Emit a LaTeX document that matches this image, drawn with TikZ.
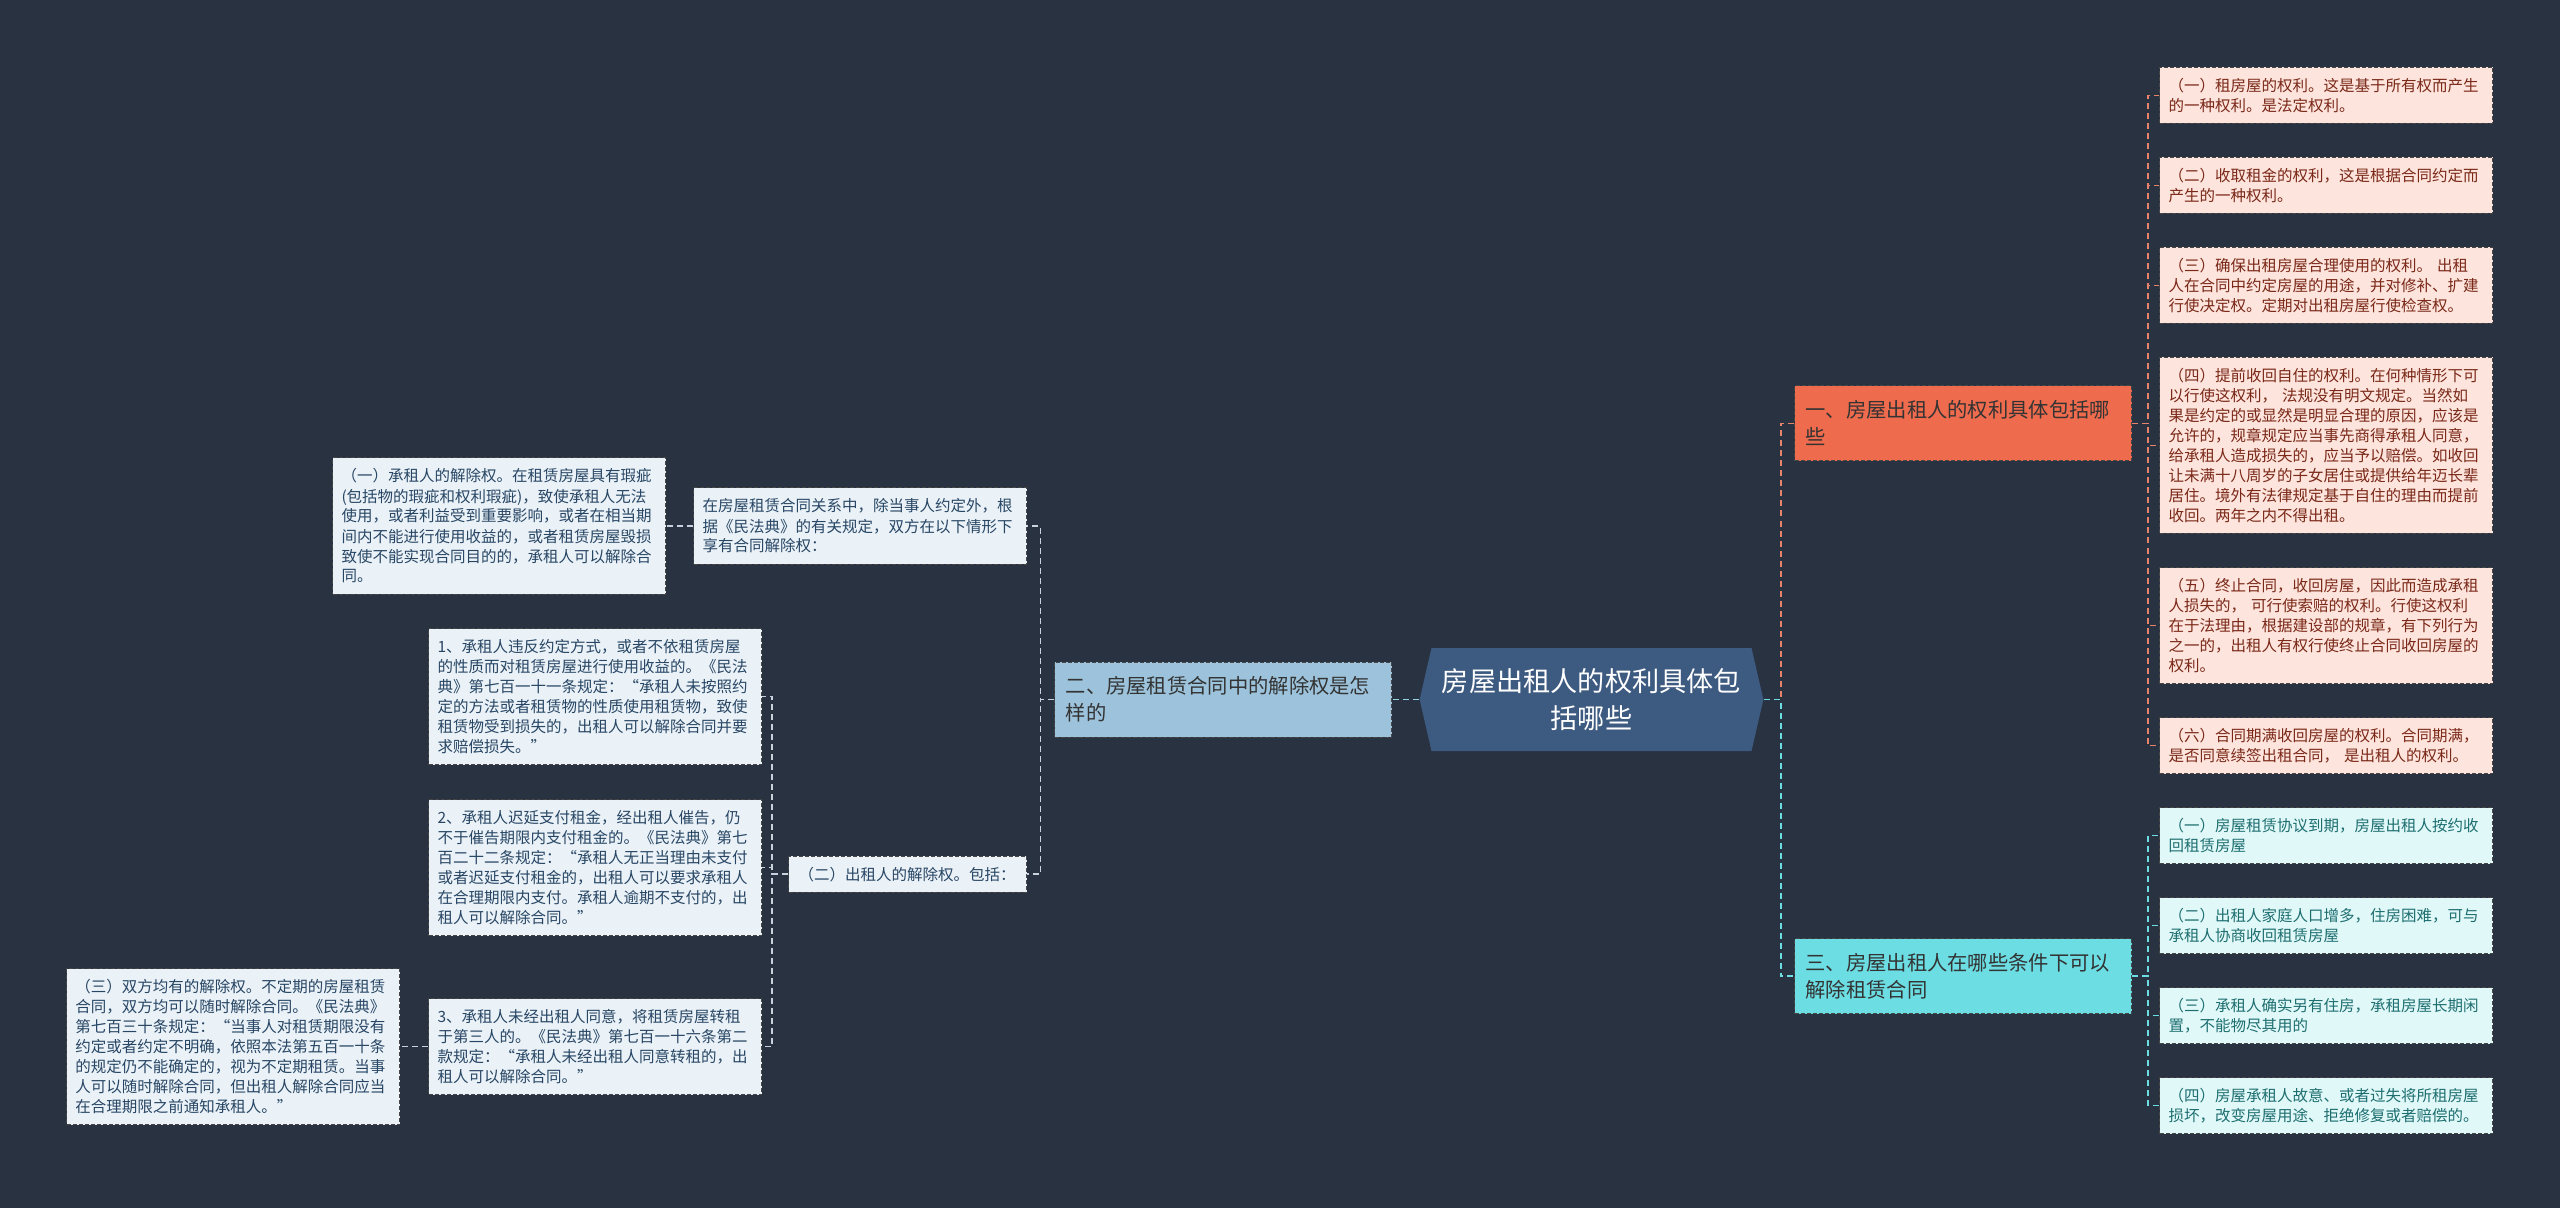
\documentclass[tikz,border=0pt]{standalone}
\usepackage{fontspec}
\setmainfont{Noto Sans CJK SC}
\usetikzlibrary{positioning,shapes.symbols}

\definecolor{nightbg}{RGB}{41,50,65}
\definecolor{hubblue}{RGB}{61,90,128}
\definecolor{skyfill}{RGB}{156,195,219}
\definecolor{coralfill}{RGB}{238,107,77}
\definecolor{aquafill}{RGB}{107,221,227}
\definecolor{pinkleaf}{RGB}{253,228,220}
\definecolor{pinktext}{RGB}{122,40,24}
\definecolor{aqualeaf}{RGB}{224,248,248}
\definecolor{aquatext}{RGB}{30,110,112}
\definecolor{frostleaf}{RGB}{234,242,248}
\definecolor{frosttext}{RGB}{40,70,100}
\definecolor{boxedge}{RGB}{70,70,70}
\definecolor{greylink}{RGB}{200,210,220}
\definecolor{skylink}{RGB}{150,210,230}
\definecolor{corallink}{RGB}{232,130,105}

\newcommand{\leafstrut}{\rule[-2pt]{0pt}{10pt}}
\newcommand{\branchstrut}{\rule[-2.85pt]{0pt}{13.5pt}}
\newcommand{\hubstrut}{\rule[-4.1pt]{0pt}{18.5pt}}

\begin{document}
\begin{tikzpicture}[x=0.5pt, y=-0.5pt,
    link/.style={line width=0.7pt, dash pattern=on 3pt off 2pt},
    leaf/.style={draw=boxedge, line width=0.5pt, dash pattern=on 2pt off 1pt,
                 align=left, inner xsep=4.5pt, inner ysep=4pt, text width=157.5pt,
                 font=\fontsize{7.75}{10}\selectfont,
                 execute at begin node=\leafstrut, execute at end node=\leafstrut},
    frost/.style={leaf, fill=frostleaf, text=frosttext},
    pinkbox/.style={leaf, fill=pinkleaf, text=pinktext},
    aquabox/.style={leaf, fill=aqualeaf, text=aquatext},
    branch/.style={draw=boxedge, line width=0.5pt, dash pattern=on 2pt off 1pt,
                   align=left, inner xsep=5.5pt, inner ysep=5.25pt, text width=157.5pt,
                   font=\fontsize{10.15}{13.5}\selectfont, text=black!80,
                   execute at begin node=\branchstrut, execute at end node=\branchstrut},
    hubbox/.style={signal, signal to=west and east, signal pointer angle=154,
                   fill=hubblue, text=white, align=center, text width=152pt,
                   inner xsep=4pt, inner ysep=7.25pt,
                   font=\fontsize{13.6}{18.5}\selectfont,
                   execute at begin node=\hubstrut, execute at end node=\hubstrut}
  ]
    \fill[nightbg] (0,0) rectangle (2560,1208);
    \useasboundingbox (0,0) rectangle (2560,1208);

    % centre and main branches
    \node[hubbox] (hub) at (1591.5,699.5) {房屋出租人的权利具体包\\括哪些};
    \node[branch, fill=skyfill, left=13.5pt of hub] (b2) {二、房屋租赁合同中的解除权是怎\\样的};
    \node[branch, fill=coralfill, anchor=west] (b1) at (1794,423.5) {一、房屋出租人的权利具体包括哪\\些};
    \node[branch, fill=aquafill, anchor=west] (b3) at (1794,976) {三、房屋出租人在哪些条件下可以\\解除租赁合同};

    % right column
    \node[pinkbox, anchor=north west] (p1) at (2159,67) {%
      （一）租房屋的权利。这是基于所有权而产生\\的一种权利。是法定权利。};
    \node[pinkbox, below=16.5pt of p1] (p2) {%
      （二）收取租金的权利，这是根据合同约定而\\产生的一种权利。};
    \node[pinkbox, below=16.5pt of p2] (p3) {%
      （三）确保出租房屋合理使用的权利。 出租\\人在合同中约定房屋的用途，并对修补、扩建\\行使决定权。定期对出租房屋行使检查权。};
    \node[pinkbox, below=16.5pt of p3] (p4) {%
      （四）提前收回自住的权利。在何种情形下可\\以行使这权利， 法规没有明文规定。当然如\\果是约定的或显然是明显合理的原因，应该是\\允许的，规章规定应当事先商得承租人同意，\\给承租人造成损失的，应当予以赔偿。如收回\\让未满十八周岁的子女居住或提供给年迈长辈\\居住。境外有法律规定基于自住的理由而提前\\收回。两年之内不得出租。};
    \node[pinkbox, below=16.5pt of p4] (p5) {%
      （五）终止合同，收回房屋，因此而造成承租\\人损失的， 可行使索赔的权利。行使这权利\\在于法理由，根据建设部的规章，有下列行为\\之一的，出租人有权行使终止合同收回房屋的\\权利。};
    \node[pinkbox, below=16.5pt of p5] (p6) {%
      （六）合同期满收回房屋的权利。合同期满，\\是否同意续签出租合同， 是出租人的权利。};
    \node[aquabox, below=16.5pt of p6] (q1) {%
      （一）房屋租赁协议到期，房屋出租人按约收\\回租赁房屋};
    \node[aquabox, below=16.5pt of q1] (q2) {%
      （二）出租人家庭人口增多，住房困难，可与\\承租人协商收回租赁房屋};
    \node[aquabox, below=16.5pt of q2] (q3) {%
      （三）承租人确实另有住房，承租房屋长期闲\\置，不能物尽其用的};
    \node[aquabox, below=16.5pt of q3] (q4) {%
      （四）房屋承租人故意、或者过失将所租房屋\\损坏，改变房屋用途、拒绝修复或者赔偿的。};

    % left side
    \node[frost, anchor=east] (law) at (1027,526) {%
      在房屋租赁合同关系中，除当事人约定外，根\\据《民法典》的有关规定，双方在以下情形下\\享有合同解除权：};
    \node[frost, left=13.5pt of law] (t1) {%
      （一）承租人的解除权。在租赁房屋具有瑕疵\\(包括物的瑕疵和权利瑕疵)，致使承租人无法\\使用，或者利益受到重要影响，或者在相当期\\间内不能进行使用收益的，或者租赁房屋毁损\\致使不能实现合同目的的，承租人可以解除合\\同。};
    \node[frost, anchor=east, text width=109pt, inner xsep=5pt] (lessor) at (1027,874) {%
      （二）出租人的解除权。包括：};
    \node[frost, anchor=north west] (c1) at (428,628) {%
      1、承租人违反约定方式，或者不依租赁房屋\\的性质而对租赁房屋进行使用收益的。《民法\\典》第七百一十一条规定：“承租人未按照约\\定的方法或者租赁物的性质使用租赁物，致使\\租赁物受到损失的，出租人可以解除合同并要\\求赔偿损失。”};
    \node[frost, below=17pt of c1] (c2) {%
      2、承租人迟延支付租金，经出租人催告，仍\\不于催告期限内支付租金的。《民法典》第七\\百二十二条规定：“承租人无正当理由未支付\\或者迟延支付租金的，出租人可以要求承租人\\在合理期限内支付。承租人逾期不支付的，出\\租人可以解除合同。”};
    \node[frost, below=31pt of c2] (c3) {%
      3、承租人未经出租人同意，将租赁房屋转租\\于第三人的。《民法典》第七百一十六条第二\\款规定：“承租人未经出租人同意转租的，出\\租人可以解除合同。”};
    \node[frost, left=14pt of c3] (both) {%
      （三）双方均有的解除权。不定期的房屋租赁\\合同，双方均可以随时解除合同。《民法典》\\第七百三十条规定：“当事人对租赁期限没有\\约定或者约定不明确，依照本法第五百一十条\\的规定仍不能确定的，视为不定期租赁。当事\\人可以随时解除合同，但出租人解除合同应当\\在合理期限之前通知承租人。”};

    % connectors
    \draw[link, corallink] (hub.east) -- ++(17,0) |- (b1.west);
    \draw[link, aquafill] (hub.east) -- ++(17,0) |- (b3.west);
    \foreach \leafname in {p1,p2,p3,p4,p5,p6}
      \draw[link, corallink] (b1.east) -- ++(16,0) |- (\leafname.west);
    \foreach \leafname in {q1,q2,q3,q4}
      \draw[link, aquafill] (b3.east) -- ++(16,0) |- (\leafname.west);
    \draw[link, skylink] (hub.west) -- (b2.east);
    \draw[link, greylink] (b2.west) -- ++(-14,0) |- (law.east);
    \draw[link, greylink] (b2.west) -- ++(-14,0) |- (lessor.east);
    \draw[link, greylink] (law.west) -- (t1.east);
    \foreach \leafname in {c1,c2,c3}
      \draw[link, greylink] (lessor.west) -- ++(-16,0) |- (\leafname.east);
    \draw[link, greylink] (c3.west) -- ++(-14,0) |- (both.east);
\end{tikzpicture}
\end{document}
